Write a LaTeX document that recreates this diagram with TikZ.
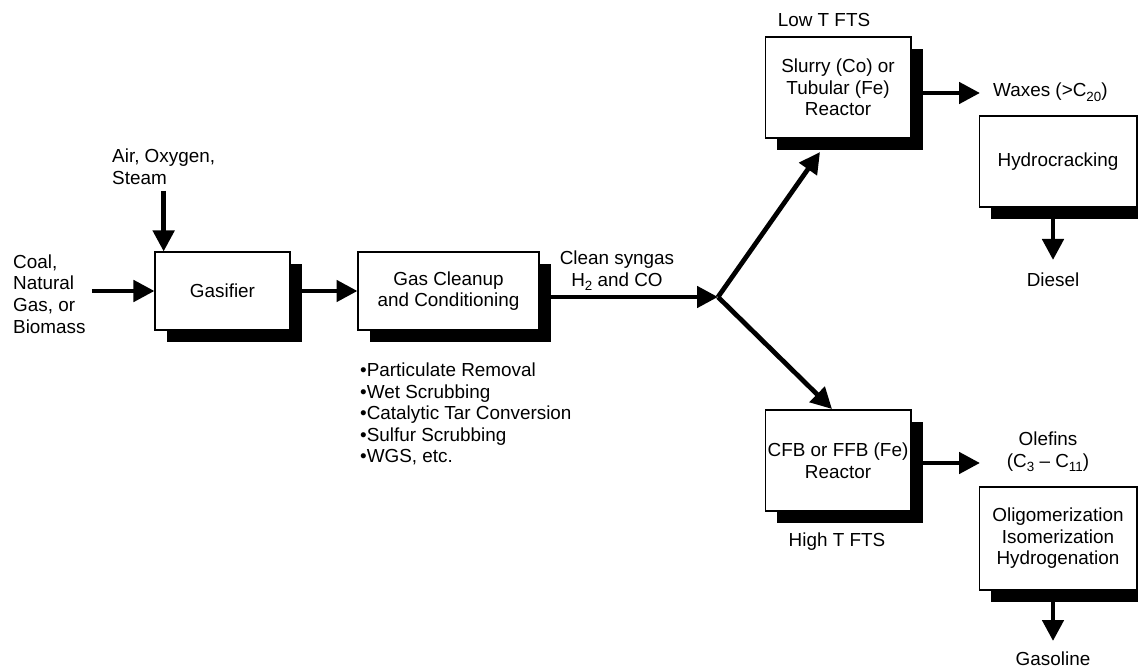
\documentclass[tikz,border=0pt]{standalone}
\usepackage{fontspec}
\setmainfont{Liberation Sans}
\usepackage{tikz}
\usetikzlibrary{arrows.meta,shadows}
\newcommand{\lowsub}[1]{\raisebox{-0.45ex}{\fontsize{7.6}{8}\selectfont #1}}

\begin{document}
\begin{tikzpicture}[x=0.02cm, y=-0.02cm, font=\fontsize{10.75}{12.3}\selectfont,
    box/.style={draw, fill=white, line width=0.6pt, align=center, inner xsep=1pt,
      general shadow={fill=black, shadow xshift=0.24cm, shadow yshift=-0.24cm}},
    flow/.style={line width=2.7pt, -{Triangle[length=0.42cm, width=0.42cm]}}]
      \useasboundingbox (0,0) rectangle (1138,671);
      % process boxes
      \node[box, minimum width=2.7cm, minimum height=1.56cm] (gas) at (222.5,291) {Gasifier};
      \node[box, minimum width=3.62cm, minimum height=1.56cm] (clean) at (448.5,291) {Gas Cleanup\\and Conditioning};
      \node[box, minimum width=2.92cm, minimum height=2.02cm] (lowr) at (838,87.5) {Slurry (Co) or\\Tubular (Fe)\\Reactor};
      \node[box, minimum width=2.92cm, minimum height=2.02cm] (highr) at (838,460.5) {CFB or FFB (Fe)\\Reactor};
      \node[box, minimum width=3.16cm, minimum height=1.82cm] (hydro) at (1058,161.5) {Hydrocracking};
      \node[box, minimum width=3.16cm, minimum height=2.06cm] (olig) at (1058,538.5) {Oligomerization\\Isomerization\\Hydrogenation};
      % labels
      \node[anchor=west, align=left] (feed) at (7,294) {Coal,\\Natural\\Gas, or\\Biomass};
      \node[anchor=west, align=left] (air) at (106,167) {Air, Oxygen,\\Steam};
      \node[align=center] (syngas) at (617,271) {Clean syngas\\H\lowsub{2} and CO};
      \node[anchor=west, align=left] (steps) at (354,414) {•Particulate Removal\\•Wet Scrubbing\\•Catalytic Tar Conversion\\•Sulfur Scrubbing\\•WGS, etc.};
      \node (lowlbl) at (824,20) {Low T FTS};
      \node (highlbl) at (837,542) {High T FTS};
      \node[anchor=west] (waxes) at (987,92) {Waxes (>C\lowsub{20})};
      \node[align=center] (olefins) at (1048,452) {Olefins\\(C\lowsub{3} -- C\lowsub{11})};
      \node (diesel) at (1053,280) {Diesel};
      \node (gasoline) at (1053,659) {Gasoline};
      % arrow ends
      \coordinate (split) at (718,297);
      \coordinate (lowin) at (820,152);
      \coordinate (highin) at (832,409);
      \coordinate (waxin) at (980,93);
      \coordinate (olin) at (980,463);
      \coordinate (dslin) at (1053,260);
      \coordinate (gasin) at (1053,641);
      % flows
      \draw[flow] (feed.east |- gas.west) -- (gas.west);
      \draw[flow] (air.south) -- (air.south |- gas.north);
      \draw[flow] (gas.east) -- (clean.west);
      \draw[flow] (clean.east |- split) -- (split);
      \draw[flow] (split) -- (lowin);
      \draw[flow] (split) -- (highin);
      \draw[flow] (lowr.east |- waxin) -- (waxin);
      \draw[flow] (highr.east |- olin) -- (olin);
      \draw[flow] (hydro.south -| dslin) -- (dslin);
      \draw[flow] (olig.south -| gasin) -- (gasin);
    \end{tikzpicture}
\end{document}
